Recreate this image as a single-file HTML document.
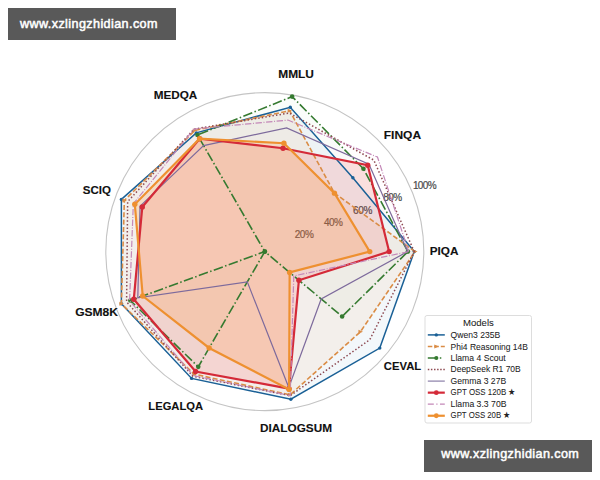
<!DOCTYPE html>
<html><head><meta charset="utf-8"><style>
html,body{margin:0;padding:0;background:#fff;width:600px;height:480px;overflow:hidden}
svg{display:block}
text{font-family:"Liberation Sans",sans-serif}
.al{font-size:10.5px;font-weight:bold;fill:#111;stroke:#111;stroke-width:0.1}
.rl{font-size:10px;fill:#4a4a4a;stroke:#4a4a4a;stroke-width:0.2}
.lt{font-size:8.8px;fill:#222;stroke:#222;stroke-width:0.05}
.lg{font-size:8.7px;fill:#222;stroke:#222;stroke-width:0.05}
.wm{font-size:12.6px;fill:#fff;stroke:#fff;stroke-width:0.5}
</style></head><body>
<svg width="600" height="480" viewBox="0 0 600 480">
<rect x="0" y="0" width="600" height="480" fill="#fff"/>
<g>
<circle cx="264.8" cy="251.6" r="159.0" fill="none" stroke="#c4c4c4" stroke-width="1.1"/>
<text x="294.8" y="238.2" class="rl" textLength="19.0" lengthAdjust="spacing">20%</text>
<text x="324" y="226" class="rl" textLength="18.8" lengthAdjust="spacing">40%</text>
<text x="353" y="214.3" class="rl" textLength="19.5" lengthAdjust="spacing">60%</text>
<text x="383.2" y="200.9" class="rl" textLength="18.9" lengthAdjust="spacing">80%</text>
<text x="412.9" y="189.2" class="rl" textLength="23.7" lengthAdjust="spacing">100%</text>
<polygon points="414.26,251.60 352.86,177.71 290.26,107.23 196.27,132.90 121.37,199.39 121.37,303.81 191.58,378.42 290.84,399.26 379.78,348.08" fill="#1d7bb0" fill-opacity="0.056" stroke="none"/>
<polygon points="415.06,251.60 334.47,193.14 289.65,110.67 194.84,130.43 124.35,200.48 121.37,303.81 194.04,374.15 290.06,394.87 360.41,331.83" fill="#ff8310" fill-opacity="0.063" stroke="none"/>
<polygon points="407.90,251.60 363.46,168.82 292.13,96.58 197.46,134.97 264.80,251.60 130.33,300.54 198.26,366.85 264.80,251.60 342.14,316.50" fill="#2ca12c" fill-opacity="0.025" stroke="none"/>
<polygon points="414.26,251.60 373.81,160.13 289.23,113.02 194.05,129.05 127.64,201.68 126.59,301.90 192.85,376.22 290.20,395.66 369.79,339.70" fill="#8e564c" fill-opacity="0.003" stroke="none"/>
<polygon points="407.58,251.60 368.94,164.22 286.61,127.90 203.59,145.57 140.04,206.19 137.80,297.82 247.31,281.89 288.77,387.52 321.19,298.92" fill="#9667be" fill-opacity="0.003" stroke="none"/>
<polygon points="389.14,251.60 367.72,165.24 283.02,148.25 199.61,138.69 142.28,207.01 133.77,299.29 195.56,371.53 288.96,388.61 298.90,280.22" fill="#ff3236" fill-opacity="0.135" stroke="none"/>
<polygon points="408.70,251.60 377.47,157.06 287.99,120.07 194.05,129.05 133.32,203.74 129.58,300.81 193.25,375.53 290.20,395.66 293.79,275.92" fill="#e577c3" fill-opacity="0.003" stroke="none"/>
<polygon points="369.74,251.60 334.47,193.14 283.91,143.24 199.61,138.69 134.81,204.29 142.73,296.03 209.15,347.99 289.10,389.39 289.65,272.45" fill="#ff9d46" fill-opacity="0.222" stroke="none"/>
<polygon points="414.26,251.60 352.86,177.71 290.26,107.23 196.27,132.90 121.37,199.39 121.37,303.81 191.58,378.42 290.84,399.26 379.78,348.08" fill="none" stroke="#1a6096" stroke-width="1.5" stroke-linejoin="miter"/>
<circle cx="414.26" cy="251.60" r="1.7" fill="#1a6096"/>
<circle cx="352.86" cy="177.71" r="1.7" fill="#1a6096"/>
<circle cx="290.26" cy="107.23" r="1.7" fill="#1a6096"/>
<circle cx="196.27" cy="132.90" r="1.7" fill="#1a6096"/>
<circle cx="121.37" cy="199.39" r="1.7" fill="#1a6096"/>
<circle cx="121.37" cy="303.81" r="1.7" fill="#1a6096"/>
<circle cx="191.58" cy="378.42" r="1.7" fill="#1a6096"/>
<circle cx="290.84" cy="399.26" r="1.7" fill="#1a6096"/>
<circle cx="379.78" cy="348.08" r="1.7" fill="#1a6096"/>
<polygon points="415.06,251.60 334.47,193.14 289.65,110.67 194.84,130.43 124.35,200.48 121.37,303.81 194.04,374.15 290.06,394.87 360.41,331.83" fill="none" stroke="#da8c45" stroke-width="1.6" stroke-dasharray="5 2.3" stroke-linejoin="miter"/>
<path d="M413.06,249.60 L417.56,251.60 L413.06,253.60Z" fill="#da8c45"/>
<path d="M332.47,191.14 L336.97,193.14 L332.47,195.14Z" fill="#da8c45"/>
<path d="M287.65,108.67 L292.15,110.67 L287.65,112.67Z" fill="#da8c45"/>
<path d="M192.84,128.43 L197.34,130.43 L192.84,132.43Z" fill="#da8c45"/>
<path d="M122.35,198.48 L126.85,200.48 L122.35,202.48Z" fill="#da8c45"/>
<path d="M119.37,301.81 L123.87,303.81 L119.37,305.81Z" fill="#da8c45"/>
<path d="M192.04,372.15 L196.54,374.15 L192.04,376.15Z" fill="#da8c45"/>
<path d="M288.06,392.87 L292.56,394.87 L288.06,396.87Z" fill="#da8c45"/>
<path d="M358.41,329.83 L362.91,331.83 L358.41,333.83Z" fill="#da8c45"/>
<polygon points="407.90,251.60 363.46,168.82 292.13,96.58 197.46,134.97 264.80,251.60 130.33,300.54 198.26,366.85 264.80,251.60 342.14,316.50" fill="none" stroke="#357a30" stroke-width="1.6" stroke-dasharray="9.6 2.4 1.5 2.4" stroke-linejoin="miter"/>
<circle cx="407.90" cy="251.60" r="2.3" fill="#357a30"/>
<circle cx="363.46" cy="168.82" r="2.3" fill="#357a30"/>
<circle cx="292.13" cy="96.58" r="2.3" fill="#357a30"/>
<circle cx="197.46" cy="134.97" r="2.3" fill="#357a30"/>
<circle cx="264.80" cy="251.60" r="2.3" fill="#357a30"/>
<circle cx="130.33" cy="300.54" r="2.3" fill="#357a30"/>
<circle cx="198.26" cy="366.85" r="2.3" fill="#357a30"/>
<circle cx="264.80" cy="251.60" r="2.3" fill="#357a30"/>
<circle cx="342.14" cy="316.50" r="2.3" fill="#357a30"/>
<polygon points="414.26,251.60 373.81,160.13 289.23,113.02 194.05,129.05 127.64,201.68 126.59,301.90 192.85,376.22 290.20,395.66 369.79,339.70" fill="none" stroke="#8e4a52" stroke-width="1.5" stroke-dasharray="1.5 2.1" stroke-linejoin="miter"/>
<polygon points="407.58,251.60 368.94,164.22 286.61,127.90 203.59,145.57 140.04,206.19 137.80,297.82 247.31,281.89 288.77,387.52 321.19,298.92" fill="none" stroke="#7d6a9c" stroke-width="1.2" stroke-linejoin="miter"/>
<polygon points="389.14,251.60 367.72,165.24 283.02,148.25 199.61,138.69 142.28,207.01 133.77,299.29 195.56,371.53 288.96,388.61 298.90,280.22" fill="none" stroke="#d42a38" stroke-width="2.2" stroke-linejoin="miter"/>
<circle cx="389.14" cy="251.60" r="2.7" fill="#d42a38"/>
<circle cx="367.72" cy="165.24" r="2.7" fill="#d42a38"/>
<circle cx="283.02" cy="148.25" r="2.7" fill="#d42a38"/>
<circle cx="199.61" cy="138.69" r="2.7" fill="#d42a38"/>
<circle cx="142.28" cy="207.01" r="2.7" fill="#d42a38"/>
<circle cx="133.77" cy="299.29" r="2.7" fill="#d42a38"/>
<circle cx="195.56" cy="371.53" r="2.7" fill="#d42a38"/>
<circle cx="288.96" cy="388.61" r="2.7" fill="#d42a38"/>
<circle cx="298.90" cy="280.22" r="2.7" fill="#d42a38"/>
<polygon points="408.70,251.60 377.47,157.06 287.99,120.07 194.05,129.05 133.32,203.74 129.58,300.81 193.25,375.53 290.20,395.66 293.79,275.92" fill="none" stroke="#c488b8" stroke-width="1.2" stroke-dasharray="6.4 1.6 1 1.6" stroke-linejoin="miter"/>
<polygon points="369.74,251.60 334.47,193.14 283.91,143.24 199.61,138.69 134.81,204.29 142.73,296.03 209.15,347.99 289.10,389.39 289.65,272.45" fill="none" stroke="#ee9030" stroke-width="2.2" stroke-linejoin="miter"/>
<circle cx="369.74" cy="251.60" r="2.7" fill="#ee9030"/>
<circle cx="334.47" cy="193.14" r="2.7" fill="#ee9030"/>
<circle cx="283.91" cy="143.24" r="2.7" fill="#ee9030"/>
<circle cx="199.61" cy="138.69" r="2.7" fill="#ee9030"/>
<circle cx="134.81" cy="204.29" r="2.7" fill="#ee9030"/>
<circle cx="142.73" cy="296.03" r="2.7" fill="#ee9030"/>
<circle cx="209.15" cy="347.99" r="2.7" fill="#ee9030"/>
<circle cx="289.10" cy="389.39" r="2.7" fill="#ee9030"/>
<circle cx="289.65" cy="272.45" r="2.7" fill="#ee9030"/>
<text x="296.1" y="78.0" class="al" text-anchor="middle" textLength="35.7" lengthAdjust="spacingAndGlyphs">MMLU</text>
<text x="402.4" y="139.3" class="al" text-anchor="middle" textLength="37.3" lengthAdjust="spacingAndGlyphs">FINQA</text>
<text x="444.1" y="254.7" class="al" text-anchor="middle" textLength="28.7" lengthAdjust="spacingAndGlyphs">PIQA</text>
<text x="402.5" y="369.6" class="al" text-anchor="middle" textLength="37.3" lengthAdjust="spacingAndGlyphs">CEVAL</text>
<text x="296.0" y="431.7" class="al" text-anchor="middle" textLength="72.0" lengthAdjust="spacingAndGlyphs">DIALOGSUM</text>
<text x="175.7" y="410.0" class="al" text-anchor="middle" textLength="54.7" lengthAdjust="spacingAndGlyphs">LEGALQA</text>
<text x="96.6" y="316.2" class="al" text-anchor="middle" textLength="42.8" lengthAdjust="spacingAndGlyphs">GSM8K</text>
<text x="96.9" y="193.5" class="al" text-anchor="middle" textLength="28.2" lengthAdjust="spacingAndGlyphs">SCIQ</text>
<text x="175.5" y="99.3" class="al" text-anchor="middle" textLength="43.6" lengthAdjust="spacingAndGlyphs">MEDQA</text>
<rect x="425" y="315.5" width="106.5" height="107.5" rx="2" fill="#ffffff" fill-opacity="0.8" stroke="#dddddd" stroke-width="1"/>
<text x="463" y="325.8" class="lt" textLength="30.8" lengthAdjust="spacingAndGlyphs">Models</text>
<line x1="427.8" y1="334.90" x2="444.8" y2="334.90" stroke="#1a6096" stroke-width="1.5"/>
<circle cx="436.3" cy="334.90" r="1.7" fill="#1a6096"/>
<text x="450.6" y="337.60" class="lg" textLength="49.6" lengthAdjust="spacingAndGlyphs">Qwen3 235B</text>
<line x1="427.8" y1="346.45" x2="444.8" y2="346.45" stroke="#da8c45" stroke-width="1.6" stroke-dasharray="4.5 2"/>
<path d="M434.30,344.45 L438.80,346.45 L434.30,348.45Z" fill="#da8c45"/>
<text x="450.6" y="349.50" class="lg" textLength="77.3" lengthAdjust="spacingAndGlyphs">Phi4 Reasoning 14B</text>
<line x1="427.8" y1="358.00" x2="444.8" y2="358.00" stroke="#357a30" stroke-width="1.6" stroke-dasharray="9 3 1.5 10"/>
<circle cx="436.3" cy="358.00" r="2.1" fill="#357a30"/>
<text x="450.6" y="360.90" class="lg" textLength="55.1" lengthAdjust="spacingAndGlyphs">Llama 4 Scout</text>
<line x1="427.8" y1="369.55" x2="444.8" y2="369.55" stroke="#8e4a52" stroke-width="1.5" stroke-dasharray="1.5 1.6"/>
<text x="450.6" y="372.40" class="lg" textLength="70.1" lengthAdjust="spacingAndGlyphs">DeepSeek R1 70B</text>
<line x1="427.8" y1="381.10" x2="444.8" y2="381.10" stroke="#8a7fa8" stroke-width="1.2"/>
<text x="450.6" y="383.80" class="lg" textLength="55.6" lengthAdjust="spacingAndGlyphs">Gemma 3 27B</text>
<line x1="427.8" y1="392.65" x2="444.8" y2="392.65" stroke="#d42a38" stroke-width="2.2"/>
<circle cx="436.3" cy="392.65" r="2.4" fill="#d42a38"/>
<text x="450.6" y="395.20" class="lg" textLength="65.1" lengthAdjust="spacingAndGlyphs">GPT OSS 120B ★</text>
<line x1="427.8" y1="404.20" x2="444.8" y2="404.20" stroke="#c488b8" stroke-width="1.2" stroke-dasharray="6 2.5 1.2 2.5"/>
<text x="450.6" y="406.60" class="lg" textLength="55.9" lengthAdjust="spacingAndGlyphs">Llama 3.3 70B</text>
<line x1="427.8" y1="415.75" x2="444.8" y2="415.75" stroke="#ee9030" stroke-width="2.2"/>
<circle cx="436.3" cy="415.75" r="2.4" fill="#ee9030"/>
<text x="450.6" y="418.20" class="lg" textLength="59.9" lengthAdjust="spacingAndGlyphs">GPT OSS 20B ★</text>
<rect x="8" y="8" width="168" height="32" fill="#595959"/>
<text x="20" y="27.8" class="wm" textLength="137.5" lengthAdjust="spacing">www.xzlingzhidian.com</text>
<rect x="424" y="440" width="168" height="32" fill="#595959"/>
<text x="441.3" y="457.8" class="wm" textLength="137.5" lengthAdjust="spacing">www.xzlingzhidian.com</text>
</g>
</svg>
</body></html>
